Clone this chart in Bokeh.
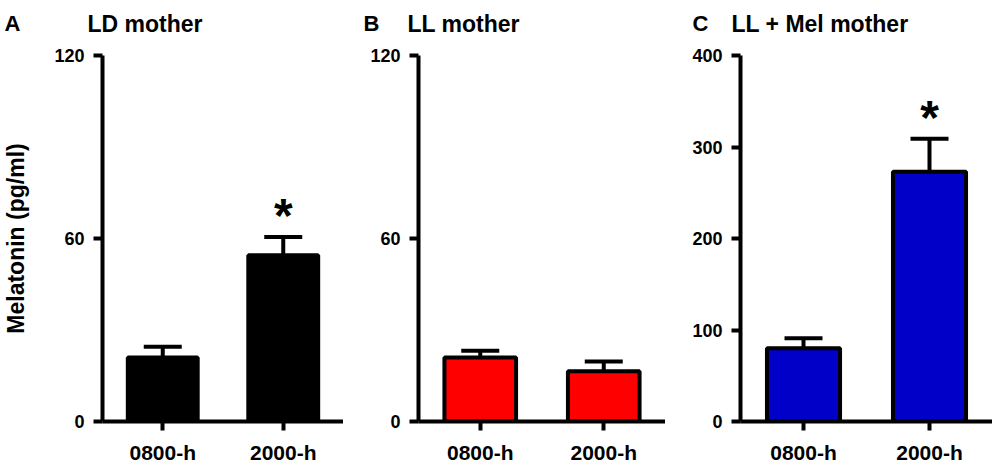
from bokeh.plotting import figure
from bokeh.models import (FactorRange, Range1d, ColumnDataSource, Whisker, TeeHead,
                          Label, FixedTicker)
from bokeh.layouts import row, column
from bokeh.embed import file_html
from bokeh.resources import INLINE
from bokeh.core.properties import value

# ---- data ----
categories = ["0800-h", "2000-h"]
ld_mean = [21, 54.5]
ld_sem = [3.5, 6]
ll_mean = [21, 16.5]
ll_sem = [2.2, 3.2]
llmel_mean = [80, 273]
llmel_sem = [11, 36]
ld_sig = [False, True]
ll_sig = [False, False]
llmel_sig = [False, True]
y_ticks_ab = [0, 60, 120]
y_ticks_c = [0, 100, 200, 300, 400]
panel_letters = ["A", "B", "C"]
panel_titles = ["LD mother", "LL mother", "LL + Mel mother"]

FONT = "Liberation Sans"
HEADER_H = 40


def panel(means, sems, sig, color, ymax, ticks, width, border_left,
          ylabel=None):
    p = figure(x_range=FactorRange(*categories), y_range=Range1d(0, ymax),
               width=width, height=466 - HEADER_H, output_backend="svg",
               toolbar_location=None, min_border_left=border_left,
               min_border_right=0, min_border_top=55 - HEADER_H,
               min_border_bottom=45)
    p.outline_line_color = None
    p.xgrid.visible = False
    p.ygrid.visible = False
    upper = [m + s for m, s in zip(means, sems)]
    src = ColumnDataSource(dict(x=categories, top=means, upper=upper))
    p.vbar(x="x", top="top", width=0.58, source=src, fill_color=color,
           line_color="black", line_width=4)
    w = Whisker(base="x", lower="top", upper="upper", source=src,
                dimension="height", line_width=4, line_color="black",
                upper_head=TeeHead(size=38, line_width=4, line_color="black"),
                lower_head=None)
    p.add_layout(w)
    sx = [c for c, s in zip(categories, sig) if s]
    sy = [u for u, s in zip(upper, sig) if s]
    if sx:
        p.text(x=sx, y=sy, text=["*"] * len(sx), text_font=value(FONT),
               text_font_style="bold", text_font_size="48px",
               text_align="center", text_baseline="alphabetic", y_offset=-21,
               text_color="black")
    for ax in (p.xaxis[0], p.yaxis[0]):
        ax.axis_line_width = 4
        ax.major_tick_line_width = 4
        ax.major_tick_out = 9
        ax.major_tick_in = 0
        ax.minor_tick_line_color = None
        ax.major_label_text_font = FONT
        ax.major_label_text_font_style = "bold"
        ax.major_label_text_color = "black"
        ax.axis_line_color = "black"
        ax.major_tick_line_color = "black"
    p.yaxis.ticker = FixedTicker(ticks=ticks)
    p.yaxis.major_label_text_font_size = "18px"
    p.yaxis.major_label_standoff = 9
    p.xaxis.major_label_text_font_size = "21px"
    p.xaxis.major_label_standoff = 10
    if ylabel:
        p.yaxis.axis_label = ylabel
        p.yaxis.axis_label_text_font = FONT
        p.yaxis.axis_label_text_font_style = "bold"
        p.yaxis.axis_label_text_font_size = "23px"
        p.yaxis.axis_label_text_color = "black"
        p.yaxis.axis_label_standoff = 22
    return p


pa = panel(ld_mean, ld_sem, ld_sig, "black", 120, y_ticks_ab, 343, 100,
           ylabel="Melatonin (pg/ml)")
pb = panel(ll_mean, ll_sem, ll_sig, "#FF0000", 120, y_ticks_ab, 322, 75)
pc = panel(llmel_mean, llmel_sem, llmel_sig, "#0000C8", 400, y_ticks_c, 327, 75)

# header strip holding the panel letters and titles
header = figure(width=992, height=HEADER_H, x_range=Range1d(0, 992),
                y_range=Range1d(0, HEADER_H), x_axis_type=None, y_axis_type=None,
                output_backend="svg", toolbar_location=None, min_border=0)
header.outline_line_color = None
header.xgrid.visible = False
header.ygrid.visible = False
letter_x = [4, 363, 692]
title_x = [87, 407, 731]
for lx, tx, letter, title in zip(letter_x, title_x, panel_letters, panel_titles):
    header.add_layout(Label(x=lx, y=HEADER_H - 23, x_units="screen",
                            y_units="screen", text=letter, text_font=FONT,
                            text_font_style="bold", text_font_size="22px",
                            text_baseline="alphabetic", text_color="black"))
    header.add_layout(Label(x=tx, y=HEADER_H - 23, x_units="screen",
                            y_units="screen", text=title, text_font=FONT,
                            text_font_style="bold", text_font_size="23px",
                            text_baseline="alphabetic", text_color="black"))

layout = column(header, row(pa, pb, pc))
open("out.html", "w").write(file_html(layout, INLINE))
